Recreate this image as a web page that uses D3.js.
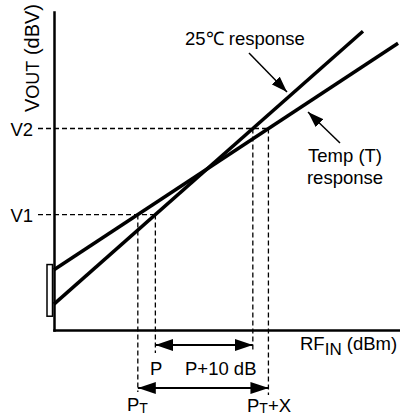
<!DOCTYPE html>
<html><head><meta charset="utf-8">
<script src="https://cdn.jsdelivr.net/npm/d3@7"></script>
<style>
html,body{margin:0;padding:0;background:#fff;}
svg{display:block;}
text{font-family:"Liberation Sans",Arial,Helvetica,sans-serif;fill:#000;}
</style></head><body>
<script>
// Log detector transfer curve: output voltage vs RF input power at two temperatures
const rfInDomain = [-40.3, -4.8];        // dBm
const voutDomain = [-50, -13.07];        // dBV
const response25C = [[-40.3, -47.0], [-8.6, -15.3]];
const responseTemp = [[-40.3, -43.0], [-5.0, -16.7]];
const levelNames = ["V1", "V2"];
const levelValues = [-36.6, -26.6];      // dBV
const powerP = [-29.9, -19.9];           // P, P+10 dB (25°C curve)
const powerPT = [-31.7, -18.3];          // PT, PT+X (temperature curve)
const interceptSpread = [-48.4, -42.4];  // spread of intercepts on the VOUT axis

const W = 400, H = 417;
const x = d3.scaleLinear().domain(rfInDomain).range([54, 400]);
const y = d3.scaleLinear().domain(voutDomain).range([330, 12]);

const svg = d3.select("body").append("svg").attr("width", W).attr("height", H);

const defs = svg.append("defs");
defs.append("marker").attr("id", "dimHead")
  .attr("viewBox", "0 0 18 12").attr("refX", 18).attr("refY", 6)
  .attr("markerWidth", 18).attr("markerHeight", 12)
  .attr("markerUnits", "userSpaceOnUse").attr("orient", "auto-start-reverse")
  .append("path").attr("d", "M0,0L18,6L0,12Z").attr("fill", "#000");
defs.append("marker").attr("id", "pointer")
  .attr("viewBox", "0 0 16 11").attr("refX", 16).attr("refY", 5.5)
  .attr("markerWidth", 16).attr("markerHeight", 11)
  .attr("markerUnits", "userSpaceOnUse").attr("orient", "auto")
  .append("path").attr("d", "M0,0L16,5.5L0,11Z").attr("fill", "#000");

const dash = "5,3";
const x0 = x(rfInDomain[0]);
const y0 = y(voutDomain[0]);
const row1 = y0 + 15, row2 = y0 + 58;

// Guide lines from the V levels to the curves and down to the power markers
const guides = svg.append("g").attr("stroke", "#000").attr("stroke-width", 1.3)
  .attr("stroke-dasharray", dash).attr("fill", "none");
levelValues.forEach((v, i) => {
  const xEnd = Math.max(x(powerP[i]), x(powerPT[i]));
  guides.append("line").attr("x1", 38).attr("x2", xEnd).attr("y1", y(v)).attr("y2", y(v));
  guides.append("line").attr("x1", x(powerP[i])).attr("x2", x(powerP[i]))
    .attr("y1", y(v)).attr("y2", row1 + (i === 0 ? 8 : 5));
  guides.append("line").attr("x1", x(powerPT[i])).attr("x2", x(powerPT[i]))
    .attr("y1", y(v)).attr("y2", row2 + (i === 0 ? 4 : 7));
});

// Intercept spread bracket on the VOUT axis
svg.append("rect")
  .attr("x", x0 - 7).attr("width", 5.5)
  .attr("y", y(interceptSpread[1])).attr("height", y(interceptSpread[0]) - y(interceptSpread[1]))
  .attr("fill", "#fff").attr("stroke", "#000").attr("stroke-width", 1.5);

// Axes without ticks
const gx = svg.append("g").attr("transform", `translate(0,${y0})`)
  .call(d3.axisBottom(x).tickValues([]).tickSizeOuter(0));
const gy = svg.append("g").attr("transform", `translate(${x0},0)`)
  .call(d3.axisLeft(y).tickValues([]).tickSizeOuter(0));
[gx, gy].forEach(g => g.select(".domain").attr("stroke", "#000")
  .attr("stroke-width", 2.5).attr("stroke-linecap", "square"));

// Response curves
const line = d3.line().x(d => x(d[0])).y(d => y(d[1]));
[response25C, responseTemp].forEach(d => {
  svg.append("path").datum(d).attr("d", line)
    .attr("fill", "none").attr("stroke", "#000").attr("stroke-width", 3.5);
});

// Dimension arrows
svg.append("line").attr("x1", x(powerP[0])).attr("x2", x(powerP[1]))
  .attr("y1", row1).attr("y2", row1).attr("stroke", "#000").attr("stroke-width", 1.8)
  .attr("marker-start", "url(#dimHead)").attr("marker-end", "url(#dimHead)");
svg.append("line").attr("x1", x(powerPT[0])).attr("x2", x(powerPT[1]))
  .attr("y1", row2).attr("y2", row2).attr("stroke", "#000").attr("stroke-width", 1.8)
  .attr("marker-start", "url(#dimHead)").attr("marker-end", "url(#dimHead)");

// Callout arrows
svg.append("line").attr("x1", 249).attr("y1", 53).attr("x2", 287).attr("y2", 92)
  .attr("stroke", "#000").attr("stroke-width", 1.5).attr("marker-end", "url(#pointer)");
svg.append("line").attr("x1", 340).attr("y1", 143).attr("x2", 308).attr("y2", 112)
  .attr("stroke", "#000").attr("stroke-width", 1.5).attr("marker-end", "url(#pointer)");

// Text
const fs = 18.5;
function label(tx, ty, anchor) {
  return svg.append("text").attr("x", tx).attr("y", ty)
    .attr("text-anchor", anchor || "start").attr("font-size", fs);
}
levelNames.forEach((n, i) => label(10.5, y(levelValues[i]) + 7, "start").text(n));

label(185, 45).text("25\u2103 response");
label(345, 162, "middle").text("Temp (T)");
label(345, 184, "middle").text("response");

const rf = label(300, 350);
rf.append("tspan").text("RF");
rf.append("tspan").attr("font-size", 17).attr("dy", 5).text("IN");
rf.append("tspan").attr("dy", -5).text(" (dBm)");

label(150, 375).text("P");
label(185, 375).text("P+10 dB");

const pt = label(127, 411);
pt.append("tspan").text("P");
pt.append("tspan").attr("font-size", 14).attr("dy", 2).text("T");

const ptx = label(247, 412);
ptx.append("tspan").text("P");
ptx.append("tspan").attr("font-size", 14).attr("dy", 1).text("T");
ptx.append("tspan").attr("dy", -1).text("+X");

const vl = svg.append("text").attr("transform", "translate(39,112) rotate(-90)")
  .attr("font-size", 20);
vl.append("tspan").text("V");
vl.append("tspan").attr("font-size", 18).text("OUT");
vl.append("tspan").text(" (dBV)");
</script>
</body></html>
